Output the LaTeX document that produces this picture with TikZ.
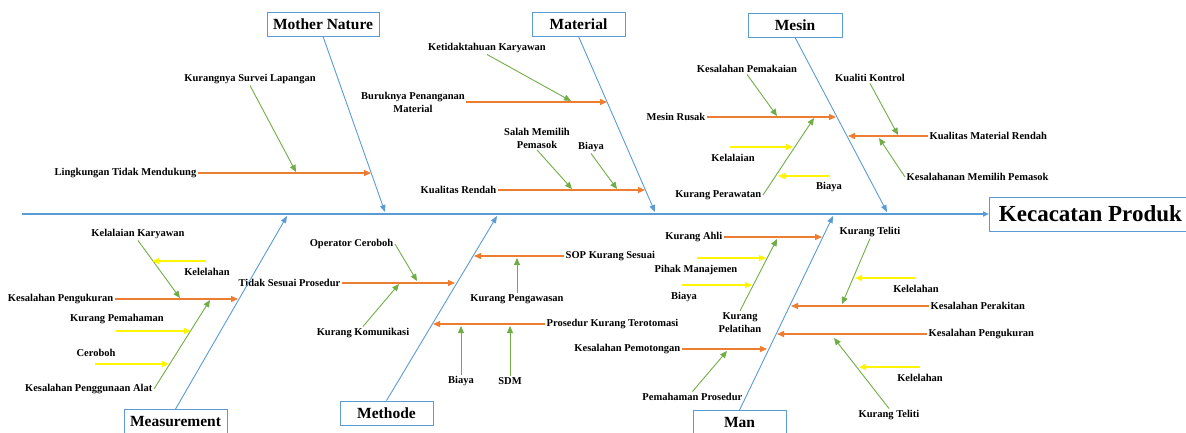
\documentclass[tikz,border=0pt]{standalone}
\usepackage{fontspec}
\setmainfont{Liberation Serif}
\usetikzlibrary{arrows.meta}
\definecolor{boneblue}{RGB}{91,155,213}
\definecolor{causeorange}{RGB}{237,125,49}
\definecolor{subgreen}{RGB}{112,173,71}
\definecolor{minoryellow}{RGB}{255,245,0}

\begin{document}
\begin{tikzpicture}[x=1pt,y=-1pt,
  spinearrow/.style={draw=boneblue,line width=1.6pt,-{Triangle[length=6pt,width=5pt]}},
  bonearrow/.style={draw=boneblue,line width=0.9pt,-{Triangle[length=7pt,width=5.5pt]}},
  causearrow/.style={draw=causeorange,line width=1.3pt,-{Triangle[length=7pt,width=6pt]}},
  subarrow/.style={draw=subgreen,line width=0.9pt,-{Triangle[length=7pt,width=6pt]}},
  minorarrow/.style={draw=minoryellow,line width=1.3pt,-{Triangle[length=7pt,width=6pt]}},
  lbl/.style={font=\fontsize{10.5}{13}\selectfont\bfseries,inner sep=1.5pt,align=center},
  catbox/.style={draw=boneblue,line width=0.8pt,fill=white,font=\fontsize{15.5}{18}\selectfont\bfseries,minimum height=24pt,inner sep=0pt}]
\useasboundingbox (0,0) rectangle (1186,432);

\node[catbox,minimum width=112pt] (mn) at (323,24) {Mother Nature};
\node[catbox,minimum width=93pt] (mat) at (578.5,24) {Material};
\node[catbox,minimum width=94pt] (mes) at (795,25) {Mesin};
\node[catbox,minimum width=103pt] (meas) at (175.5,421.5) {Measurement};
\node[catbox,minimum width=93pt] (met) at (386.5,413) {Methode};
\node[catbox,minimum width=93pt] (man) at (739.5,422.5) {Man};
\node[catbox,anchor=west,minimum width=202pt,minimum height=34pt,font=\fontsize{23}{28}\selectfont\bfseries] (eff) at (989,214) {Kecacatan Produk};

\node[lbl,anchor=east] (a1) at (198,173) {Lingkungan Tidak Mendukung};
\node[lbl] (a2) at (250,79) {Kurangnya Survei Lapangan};
\node[lbl] (b1) at (487,48) {Ketidaktahuan Karyawan};
\node[lbl] (b2) at (413,102) {Buruknya Penanganan\\Material};
\node[lbl] (b3) at (537,138) {Salah Memilih\\Pemasok};
\node[lbl] (b4) at (591,147) {Biaya};
\node[lbl,anchor=east] (b5) at (498,190) {Kualitas Rendah};
\node[lbl] (c1) at (747,69) {Kesalahan Pemakaian};
\node[lbl,anchor=east] (c2) at (707,117) {Mesin Rusak};
\node[lbl,anchor=east] (c3) at (763,195) {Kurang Perawatan};
\node[lbl] (c4) at (733,158) {Kelalaian};
\node[lbl] (c5) at (829,187) {Biaya};
\node[lbl] (c6) at (870,78) {Kualiti Kontrol};
\node[lbl,anchor=west] (c7) at (928,136) {Kualitas Material Rendah};
\node[lbl,anchor=west] (c8) at (905,177) {Kesalahanan Memilih Pemasok};
\node[lbl] (d1) at (138,234) {Kelalaian Karyawan};
\node[lbl] (d2) at (207,272) {Kelelahan};
\node[lbl,anchor=east] (d3) at (115,299) {Kesalahan Pengukuran};
\node[lbl] (d4) at (117,319) {Kurang Pemahaman};
\node[lbl] (d5) at (96,353) {Ceroboh};
\node[lbl,anchor=east] (d6) at (154,389) {Kesalahan Penggunaan Alat};
\node[lbl,anchor=east] (e1) at (342,283) {Tidak Sesuai Prosedur};
\node[lbl,anchor=east] (e2) at (395,244) {Operator Ceroboh};
\node[lbl] (e3) at (363,333) {Kurang Komunikasi};
\node[lbl,anchor=west] (e4) at (564,256) {SOP Kurang Sesuai};
\node[lbl] (e5) at (517,299) {Kurang Pengawasan};
\node[lbl,anchor=west] (e6) at (545,324) {Prosedur Kurang Terotomasi};
\node[lbl] (e7) at (461,381) {Biaya};
\node[lbl] (e8) at (510,381) {SDM};
\node[lbl,anchor=east] (f1) at (724,237) {Kurang Ahli};
\node[lbl] (f2) at (696,270) {Pihak Manajemen};
\node[lbl] (f3) at (684,297) {Biaya};
\node[lbl] (f4) at (740,322.5) {Kurang\\Pelatihan};
\node[lbl,anchor=east] (f5) at (682,349) {Kesalahan Pemotongan};
\node[lbl,anchor=east] (f6) at (744,397) {Pemahaman Prosedur};
\node[lbl] (f7) at (870,232) {Kurang Teliti};
\node[lbl] (f8) at (916,289) {Kelelahan};
\node[lbl,anchor=west] (f9) at (929,306) {Kesalahan Perakitan};
\node[lbl,anchor=west] (f10) at (927,334) {Kesalahan Pengukuran};
\node[lbl] (f11) at (889,415) {Kurang Teliti};
\node[lbl] (f12) at (920,378) {Kelelahan};

\foreach \n/\x/\y in {tail/22/214, mnE/385/212, matE/655/212, mesE/887/212, measE/287/216, metE/497/216, manE/833/216,
  a1e/371/173, a2e/296/172, b1e/571/101, b2e/607/102, b3e/572/189, b4e/617/189, b5e/645/190,
  c1e/777/116, c2e/836/117, c3e/814/118, c4s/730/147, c4e/793/147, c5s/830/176, c5e/778/176, c6e/898/135, c7e/848/136, c8e/879/138,
  d1e/180/298, d2s/206/261, d2e/152/261, d3e/238/299, d4s/116/331, d4e/191/331, d5s/95/364, d5e/169/364, d6e/210/300,
  e1e/455/283, e2e/417/281, e3e/399/284, e4e/474/256, e5e/517/258, e6e/433/324, e7e/461/326, e8e/510/326,
  f1e/822/237, f2s/697/258, f2e/766/258, f3s/682/285, f3e/752/285, f4e/777/239, f5e/767/349, f6e/727/351, f7e/842/304,
  f8s/916/278, f8e/855/278, f9e/791/306, f10e/777/334, f11e/834/338, f12s/920/367, f12e/859/367}
  \coordinate (\n) at (\x,\y);

\draw[spinearrow] (tail) -- (eff.west);
\foreach \c in {mn,mat,mes} \draw[bonearrow] (\c.south) -- (\c E);
\foreach \c in {meas,met,man} \draw[bonearrow] (\c.north) -- (\c E);
\foreach \a/\b in {a1.east/a1e, b2.east/b2e, b5.east/b5e, c2.east/c2e, c7.west/c7e, d3.east/d3e, e1.east/e1e, e4.west/e4e,
  e6.west/e6e, f1.east/f1e, f5.east/f5e, f9.west/f9e, f10.west/f10e}
  \draw[causearrow] (\a) -- (\b);
\foreach \a/\b in {a2.south/a2e, b1.south/b1e, b3.south/b3e, b4.south/b4e, c1.south/c1e, c3.east/c3e, c6.south/c6e, c8.west/c8e,
  d1.south/d1e, d6.east/d6e, e2.east/e2e, e3.north/e3e, e5.north/e5e, e7.north/e7e, e8.north/e8e, f4.north/f4e, f6.north/f6e,
  f7.south/f7e, f11.north/f11e}
  \draw[subarrow] (\a) -- (\b);
\foreach \a/\b in {c4s/c4e, c5s/c5e, d2s/d2e, d4s/d4e, d5s/d5e, f2s/f2e, f3s/f3e, f8s/f8e, f12s/f12e}
  \draw[minorarrow] (\a) -- (\b);
\end{tikzpicture}
\end{document}
